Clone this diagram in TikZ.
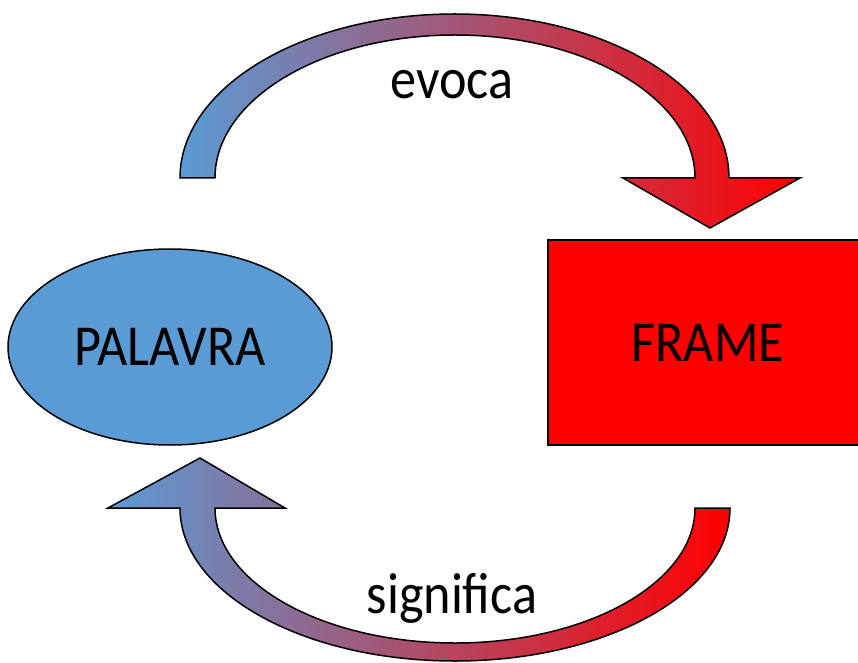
\documentclass[tikz,border=0pt]{standalone}
\usepackage{fontspec}
\setmainfont{Carlito}
\usepackage{tikz}
\usetikzlibrary{shapes.geometric,positioning}
\definecolor{palblue}{RGB}{91,155,213}
\definecolor{framered}{RGB}{255,0,0}
\newcommand\narrowtext[1]{\scalebox{0.9}[1]{#1}}
\tikzset{
  bigtext/.style={font=\fontsize{58}{60}\selectfont},
  bandarrow/.style={draw=black, line width=1.5pt, line join=miter, left color=palblue, right color=framered},
}

\begin{document}
\begin{tikzpicture}[x=1pt,y=1pt]
\useasboundingbox (0,0) rectangle (858,662);
\clip (0,0) rectangle (858,662);
% the two concepts
\node[ellipse, draw, line width=1.5pt, fill=palblue, minimum width=324pt, minimum height=196pt, inner sep=0pt, bigtext] (palavra) at (170,315) {\narrowtext{PALAVRA}};
\node[rectangle, draw, line width=1.5pt, fill=framered, minimum width=320pt, minimum height=205pt, inner sep=0pt, bigtext] (frame) at (708,319.5) {\narrowtext{FRAME}};
% upper bent arrow
\draw[bandarrow] (180,484) arc[start angle=180, end angle=0, x radius=274.5pt, y radius=164pt]
  -- (800,484) -- (710,434) -- (623,484) -- (695,484)
  arc[start angle=0, end angle=180, x radius=240pt, y radius=143pt] -- cycle;
% lower bent arrow
\draw[bandarrow] (730,154) arc[start angle=0, end angle=-180, x radius=275pt, y radius=153pt]
  -- (108,154) -- (200,204) -- (285,154) -- (215,154)
  arc[start angle=180, end angle=360, x radius=240pt, y radius=135pt] -- cycle;
\node[bigtext, anchor=base] (evoca) at (452,563) {\narrowtext{evoca}};
\node[bigtext, anchor=base] (significa) at (452,49) {\narrowtext{significa}};
\end{tikzpicture}
\end{document}
